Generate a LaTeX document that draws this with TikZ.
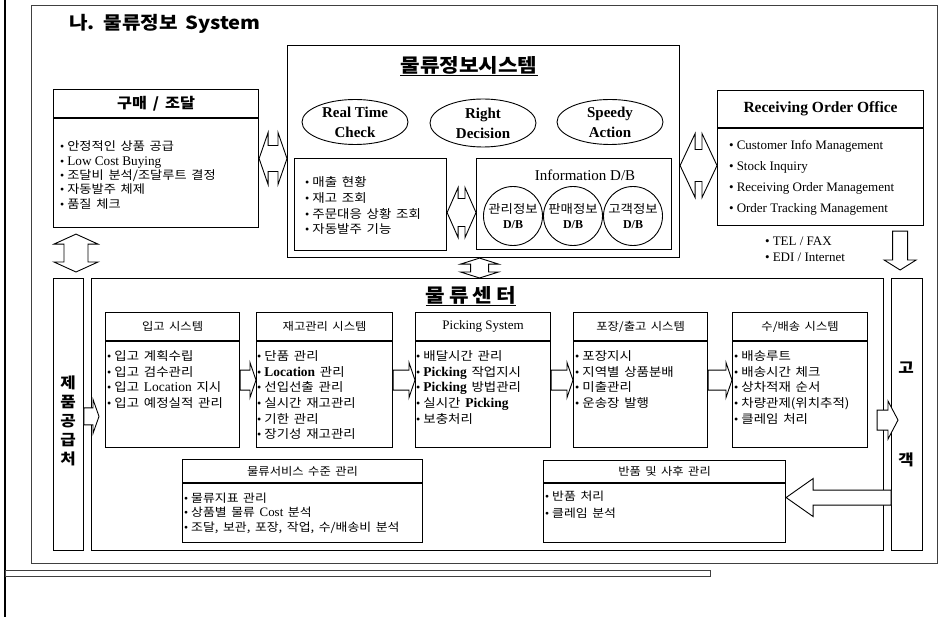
\documentclass[tikz,border=0pt]{standalone}
\usepackage{fontspec}
\setmainfont{Liberation Serif}
\newfontfamily\kr[WordSpace=1.6, FakeStretch=1.12]{Noto Sans CJK KR}
\newfontfamily\enfont[Scale=1.12]{Liberation Serif}
\usetikzlibrary{calc,shapes.geometric}

\newcommand\bu{{\rmfamily\textbullet}\hspace{3pt}}
\newcommand\en[1]{{\enfont #1}}

% box with a title bar: name, north west corner, width, height, bar height, title
\newcommand\titledbox[6]{%
  \node[sysbox, minimum width=#3, minimum height=#4] (#1) at (#2) {};
  \draw[sysline] ($(#1.north west)+(0,#5)$) -- ($(#1.north east)+(0,#5)$);
  \node[hdr] (#1-title) at ($(#1.north)+(0,#5/2)$) {#6};
}
% block arrows: ends, shaft half width, head half width, head length
\newcommand\dblH[5]{%
  \draw[blockarr] (#1) -- ++(#5,-#4) -- ++(0,#4-#3) -- ($(#2)+(-#5,-#3)$) -- ++(0,#3-#4) -- (#2)
    -- ++(-#5,#4) -- ++(0,#3-#4) -- ($(#1)+(#5,#3)$) -- ++(0,#4-#3) -- cycle;}
\newcommand\dblV[5]{%
  \draw[blockarr] (#1) -- ++(#4,#5) -- ++(#3-#4,0) -- ($(#2)+(#3,-#5)$) -- ++(#4-#3,0) -- (#2)
    -- ++(-#4,-#5) -- ++(#4-#3,0) -- ($(#1)+(-#3,#5)$) -- ++(#3-#4,0) -- cycle;}
\newcommand\oneH[5]{%
  \draw[blockarr] ($(#1)+(0,-#3)$) -- ($(#2)+({-(#5)},-#3)$) -- ++(0,#3-#4) -- (#2)
    -- ++({-(#5)},#4) -- ++(0,#3-#4) -- ($(#1)+(0,#3)$) -- cycle;}
\newcommand\oneV[5]{%
  \draw[blockarr] ($(#1)+(-#3,0)$) -- ($(#2)+(-#3,-#5)$) -- ++(#3-#4,0) -- (#2)
    -- ++(#4,-#5) -- ++(#3-#4,0) -- ($(#1)+(#3,0)$) -- cycle;}

\tikzset{
  sysbox/.style   = {draw, line width=1.1pt, anchor=north west, inner sep=0pt},
  band/.style     = {draw, line width=0.8pt, anchor=north west, inner sep=0pt},
  sysline/.style  = {line width=1.1pt},
  hdr/.style      = {inner sep=0pt, font=\kr\fontsize{11}{14}\selectfont},
  items/.style    = {anchor=north west, align=left, inner sep=0pt,
                     font=\kr\fontsize{12}{15.6}\selectfont},
  goal/.style     = {ellipse, draw, line width=0.9pt, minimum width=106, minimum height=45,
                     inner sep=0pt, align=center, font=\bfseries\fontsize{15}{20}\selectfont},
  dbase/.style    = {circle, draw, line width=0.9pt, minimum size=59, inner sep=0pt,
                     align=center, font=\kr\fontsize{12}{15}\selectfont},
  blockarr/.style = {draw, fill=white, line width=0.9pt, line join=miter},
  coltext/.style  = {align=center, inner sep=0pt, font=\kr\bfseries\fontsize{15}{19}\selectfont},
  bigtitle/.style = {inner sep=0pt, font=\kr\bfseries\fontsize{19}{22}\selectfont}
}

\begin{document}
\begin{tikzpicture}[x=1pt, y=-1pt]
\useasboundingbox (0,0) rectangle (952,617);

% page frame
\draw[line width=2pt] (5,0) -- (5,617);
\draw[line width=0.6pt, black!75] (31,5) rectangle (937,563);
\draw[line width=0.6pt, black!75] (5,570) rectangle (710,576);
\node[anchor=west, inner sep=0pt, font=\kr\bfseries\fontsize{18}{20}\selectfont] (title) at (69,24) {나. 물류정보 System};

% information system
\node[sysbox, minimum width=392, minimum height=212] (infosys) at (287,45) {};
\node[bigtitle] (infosys-title) at (469,66) {\underline{물류정보시스템}};
\node[goal] (rtcheck) at (355,122) {Real Time\\Check};
\node[goal, minimum height=48] (rdecision) at (483,123) {Right\\Decision};
\node[goal] (saction) at (610,122) {Speedy\\Action};
\node[sysbox, minimum width=152, minimum height=92] (monitor) at (294,158) {};
\node[items, font=\kr\fontsize{12}{15.7}\selectfont] (monitor-list) at (305,176.5)
  {\bu 매출 현황\\ \bu 재고 조회\\ \bu 주문대응 상황 조회\\ \bu 자동발주 기능};
\node[sysbox, minimum width=195, minimum height=91] (infodb) at (476,158) {};
\node[inner sep=0pt, font=\fontsize{15}{18}\selectfont] (infodb-title) at (585,175) {Information D/B};
\node[dbase] (dbmgmt) at (513,216) {관리정보\\{\rmfamily\bfseries D/B}};
\node[dbase] (dbsales) at (573,216) {판매정보\\{\rmfamily\bfseries D/B}};
\node[dbase] (dbcust) at (633,216) {고객정보\\{\rmfamily\bfseries D/B}};

% purchasing
\titledbox{gumae}{53,89}{205}{138}{29}{\bfseries\fontsize{14.5}{16}\selectfont 구매 / 조달}
\node[items, font=\kr\fontsize{11.8}{14.3}\selectfont] (gumae-list) at (60,141)
  {\bu 안정적인 상품 공급\\ \bu \en{Low Cost Buying}\\ \bu 조달비 분석/조달루트 결정\\ \bu 자동발주 체제\\ \bu 품질 체크};

% order office
\titledbox{roo}{717,90}{206}{135}{38}{\rmfamily\bfseries\fontsize{15.5}{18}\selectfont Receiving Order Office}
\node[items, font=\rmfamily\fontsize{13}{21}\selectfont] (roo-list) at (729,140)
  {\bu Customer Info Management\\ \bu Stock Inquiry\\ \bu Receiving Order Management\\ \bu Order Tracking Management};
\node[items, font=\rmfamily\fontsize{13}{16}\selectfont] (channel) at (765,237)
  {\bu TEL / FAX\\ \bu EDI / Internet};

% logistics center
\node[band, minimum width=30, minimum height=272] (supplier) at (53,278) {};
\node[band, minimum width=792, minimum height=272] (logctr) at (91,278) {};
\node[band, minimum width=31, minimum height=272] (customer) at (891,278) {};
\node[coltext] (supplier-text) at (68,421) {제\\품\\공\\급\\처};
\node[coltext] (customer-text) at (906,414) {고\\[73pt]객};
\node[bigtitle] (logctr-title) at (471,296) {\underline{물\hspace{4pt}류\hspace{4pt}센\hspace{4pt}터}};

\titledbox{inbound}{105,312}{134}{135}{29}{입고 시스템}
\node[items] (inbound-list) at (107,350.5)
  {\bu 입고 계획수립\\ \bu 입고 검수관리\\ \bu 입고 \en{Location} 지시\\ \bu 입고 예정실적 관리};
\titledbox{stock}{256,312}{136}{135}{29}{재고관리 시스템}
\node[items] (stock-list) at (257,350.5)
  {\bu 단품 관리\\ \bu \en{\bfseries Location} 관리\\ \bu 선입선출 관리\\ \bu 실시간 재고관리\\ \bu 기한 관리\\ \bu 장기성 재고관리};
\titledbox{picking}{415,312}{135}{135}{29}{\rmfamily\fontsize{13}{15}\selectfont Picking System}
\node[items] (picking-list) at (416,350.5)
  {\bu 배달시간 관리\\ \bu \en{\bfseries Picking} 작업지시\\ \bu \en{\bfseries Picking} 방법관리\\ \bu 실시간 \en{\bfseries Picking}\\ \bu 보충처리};
\titledbox{packing}{573,312}{134}{135}{29}{포장/출고 시스템}
\node[items] (packing-list) at (575,350.5)
  {\bu 포장지시\\ \bu 지역별 상품분배\\ \bu 미출관리\\ \bu 운송장 발행};
\titledbox{delivery}{732,312}{135}{135}{29}{수/배송 시스템}
\node[items] (delivery-list) at (734,350.5)
  {\bu 배송루트\\ \bu 배송시간 체크\\ \bu 상차적재 순서\\ \bu 차량관제(위치추적)\\ \bu 클레임 처리};

\titledbox{svclevel}{182,459}{240}{83}{24}{물류서비스 수준 관리}
\node[items, font=\kr\fontsize{11.5}{14.5}\selectfont] (svclevel-list) at (184,492.5)
  {\bu 물류지표 관리\\ \bu 상품별 물류 \en{Cost} 분석\\ \bu 조달, 보관, 포장, 작업, 수/배송비 분석};
\titledbox{returns}{543,460}{242}{82}{23}{반품 및 사후 관리}
\node[items, font=\kr\fontsize{11.5}{17}\selectfont] (returns-list) at (545,490.5)
  {\bu 반품 처리\\ \bu 클레임 분석};

% block arrows
\coordinate (a1l) at (gumae.east);
\coordinate (a1r) at (infosys.west |- a1l);
\dblH{a1l}{a1r}{13}{26}{9}
\coordinate (a2l) at ($(infosys.east)+(0,14)$);
\coordinate (a2r) at (roo.west |- a2l);
\dblH{a2l}{a2r}{16}{32}{15}
\coordinate (a3l) at ($(monitor.east)+(0,8)$);
\coordinate (a3r) at (infodb.west |- a3l);
\dblH{a3l}{a3r}{14}{25}{11}
\coordinate (a4t) at ($(gumae.south west)+(23,6)$);
\coordinate (a4b) at ($(a4t |- supplier.north)+(0,-6)$);
\dblV{a4t}{a4b}{12}{22}{10}
\coordinate (a5t) at ($(infosys.south)+(-4,0)$);
\coordinate (a5b) at (a5t |- logctr.north);
\dblV{a5t}{a5b}{9}{19}{6}
\coordinate (a6t) at ($(roo.south east)+(-24,5)$);
\coordinate (a6b) at ($(a6t |- customer.north)+(0,-8)$);
\oneV{a6t}{a6b}{7.5}{16}{10}
\coordinate (a7t) at ($(supplier.east)+(0,2)$);
\coordinate (a7h) at ($(a7t -| logctr.west)+(8,0)$);
\oneH{a7t}{a7h}{8.5}{17}{6}
\oneH{inbound.east}{stock.west}{10}{17.5}{6}
\oneH{stock.east}{picking.west}{10}{17.5}{6}
\oneH{picking.east}{packing.west}{10}{17.5}{6}
\oneH{packing.east}{delivery.west}{10}{17.5}{6}
\coordinate (a12t) at ($(delivery.east)+(9,40)$);
\coordinate (a12h) at ($(a12t -| customer.west)+(7,0)$);
\oneH{a12t}{a12h}{10}{19}{10}
\coordinate (a13h) at ($(returns.east)+(0,-4)$);
\coordinate (a13t) at (a13h -| customer.west);
\oneH{a13t}{a13h}{7.5}{19}{-27}
\end{tikzpicture}
\end{document}
